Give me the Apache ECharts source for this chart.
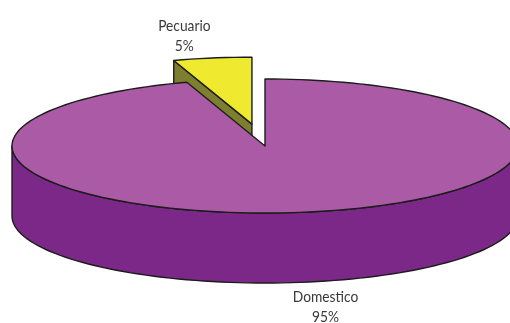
<!DOCTYPE html>
<html>
<head>
<meta charset="utf-8">
<script src="https://cdn.jsdelivr.net/npm/echarts@6/dist/echarts.min.js"></script>
<style>
  html, body { margin: 0; padding: 0; background: #ffffff; }
  #chart { width: 510px; height: 323px; }
</style>
</head>
<body>
<div id="chart"></div>
<script>
// Water use by sector
const categories = ['Domestico', 'Pecuario'];
const shares = [95, 5];
const explode = [0, 0.33];

const topColors = ['#AB5BA5', '#EFE92F'];
const sideColors = ['#7C2888', '#7E7E30'];

// Ellipse geometry of the tilted pie
const CX = 265, CY = 146, RX = 253, RY = 67, DEPTH = 70;
// label nudge from the slice rim, per slice
const labelShift = [[21, 25], [-28, -22]];

const total = shares.reduce((a, b) => a + b, 0);

// slice angles in degrees, clockwise from 12 o'clock
const slices = [];
let cum = 0;
shares.forEach(v => {
  const a0 = 90 - cum / total * 360;
  cum += v;
  const a1 = 90 - cum / total * 360;
  slices.push({ a0, a1, mid: (a0 + a1) / 2 });
});

function pt(ox, oy, deg, drop) {
  const r = deg * Math.PI / 180;
  return [ox + RX * Math.cos(r), oy - RY * Math.sin(r) + drop];
}
function arc(ox, oy, from, to, drop) {
  const n = Math.max(2, Math.ceil(Math.abs(to - from) / 2));
  const out = [];
  for (let k = 0; k <= n; k++) out.push(pt(ox, oy, from + (to - from) * k / n, drop));
  return out;
}

function renderItem(params, api) {
  const i = params.dataIndex;
  const s = slices[i];
  const m = s.mid * Math.PI / 180;
  const d = explode[i] * RX;
  const ox = CX + d * Math.cos(m);
  const oy = CY - d * (RY / RX) * Math.sin(m);
  const base = (1 - Math.sin(m)) * 10; // slices further back are painted first
  const style = fill => ({ fill, stroke: '#1c1c1c', lineWidth: 1.4, lineJoin: 'round' });
  const children = [];

  // outer wall: only the front half of the rim is visible
  for (let k = -2; k <= 1; k++) {
    const lo = Math.max(s.a1, -180 + 360 * k);
    const hi = Math.min(s.a0, 360 * k);
    if (hi > lo) {
      const pts = arc(ox, oy, lo, hi, 0).concat(arc(ox, oy, hi, lo, DEPTH));
      children.push({ type: 'polygon', shape: { points: pts }, style: style(sideColors[i]), z2: base });
    }
  }

  // radial cut faces that turn toward the viewer
  const face = a => {
    const p = pt(ox, oy, a, 0), q = pt(ox, oy, a, DEPTH);
    children.push({
      type: 'polygon',
      shape: { points: [[ox, oy], p, q, [ox, oy + DEPTH]] },
      style: style(sideColors[i]), z2: base + 1
    });
  };
  if (Math.cos(s.a0 * Math.PI / 180) < -1e-6) face(s.a0);
  if (Math.cos(s.a1 * Math.PI / 180) > 1e-6) face(s.a1);

  // top face
  const top = [[ox, oy]].concat(arc(ox, oy, s.a0, s.a1, 0));
  children.push({ type: 'polygon', shape: { points: top }, style: style(topColors[i]), z2: base + 2 });

  // label
  const rim = Math.sin(m) > 0 ? pt(ox, oy, s.mid, 0) : pt(ox, oy, s.mid, DEPTH);
  const v = api.value(0);
  children.push({
    type: 'text',
    x: rim[0] + labelShift[i][0],
    y: rim[1] + labelShift[i][1],
    scaleX: 0.86,
    style: {
      text: categories[i] + '\n' + Math.round(v / total * 100) + '%',
      align: 'center', verticalAlign: 'middle',
      fontFamily: 'Lato, "Liberation Sans", sans-serif',
      fontSize: 16, lineHeight: 20, fill: '#3a3a3a'
    },
    z2: 50
  });

  return { type: 'group', children };
}

const chart = echarts.init(document.getElementById('chart'), null, { renderer: 'canvas' });
chart.setOption({
  animation: false,
  backgroundColor: '#ffffff',
  series: [{
    type: 'custom',
    coordinateSystem: 'none',
    silent: true,
    renderItem,
    data: shares.map((v, i) => ({ name: categories[i], value: [v] }))
  }]
});
</script>
</body>
</html>
